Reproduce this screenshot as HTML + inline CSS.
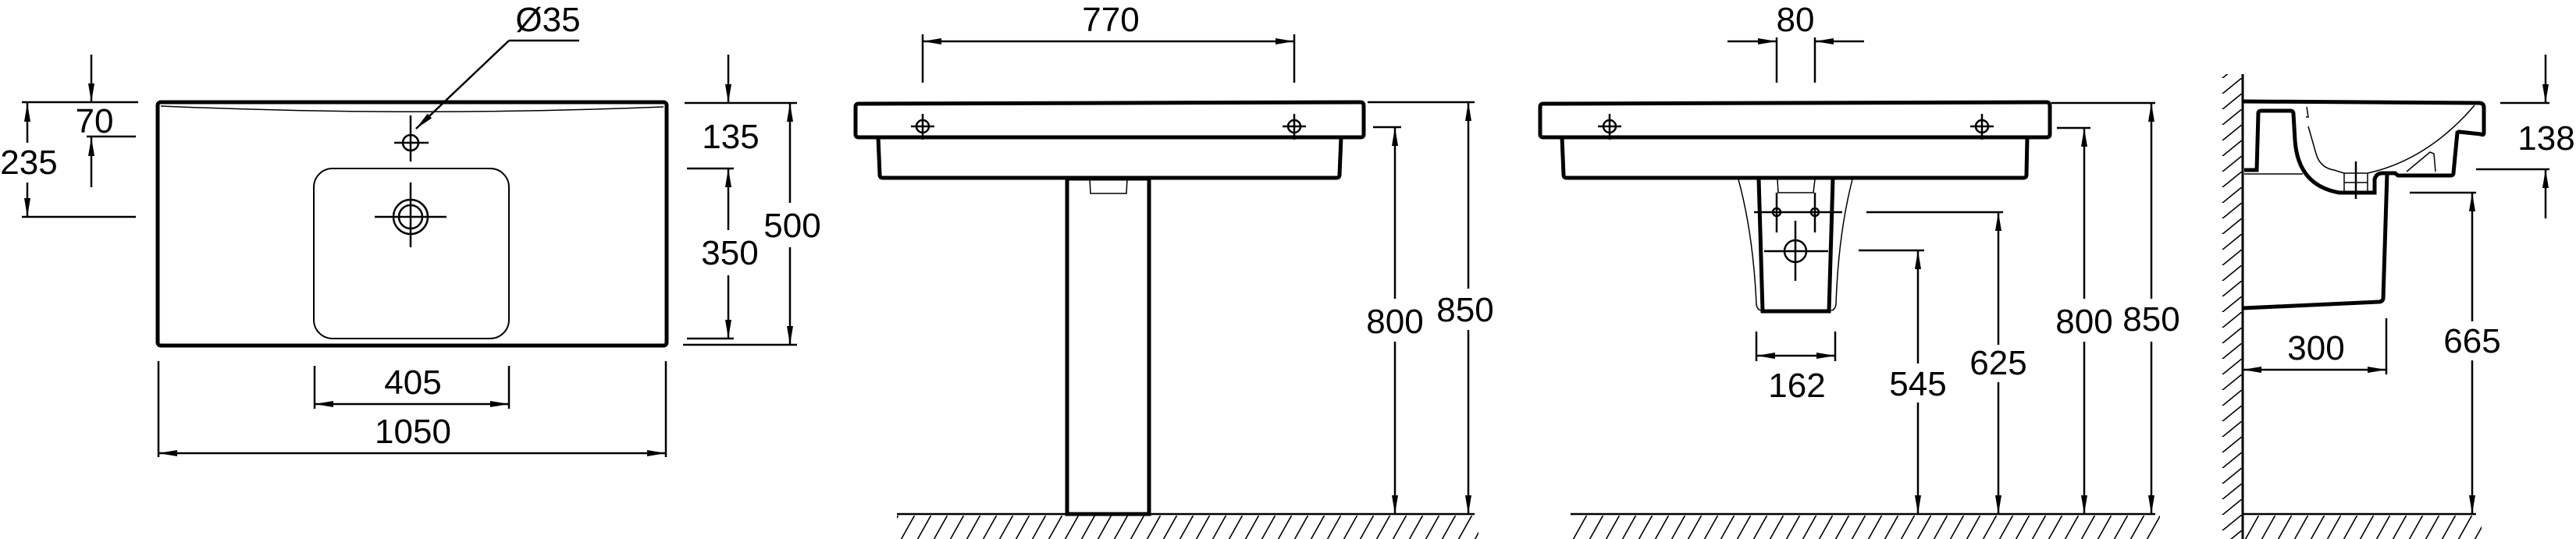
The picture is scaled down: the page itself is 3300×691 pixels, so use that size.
<!DOCTYPE html>
<html><head><meta charset="utf-8"><style>
html,body{margin:0;padding:0;background:#fff;}
svg{display:block;}
text{font-family:"Liberation Sans",Arial,sans-serif;font-size:44px;fill:#000;text-anchor:middle;}
</style></head><body>
<svg width="3300" height="691" viewBox="0 0 3300 691" xmlns="http://www.w3.org/2000/svg">
<defs>
<marker id="a" viewBox="0 0 24 8" refX="24" refY="4" markerWidth="24" markerHeight="8" markerUnits="userSpaceOnUse" orient="auto-start-reverse">
<path d="M0,0 L24,4 L0,8 z" fill="#000"/></marker>
<pattern id="h" patternUnits="userSpaceOnUse" x="0" y="661" width="21" height="32">
<line x1="-2" y1="33" x2="17" y2="-1" stroke="#000" stroke-width="1.6"/>
<line x1="19" y1="33" x2="38" y2="-1" stroke="#000" stroke-width="1.6"/></pattern>
<pattern id="w" patternUnits="userSpaceOnUse" x="2846" y="0" width="27" height="20">
<line x1="0" y1="21" x2="27" y2="-1" stroke="#000" stroke-width="1.6"/></pattern>
</defs>
<g fill="none" stroke="#000" stroke-width="2.5">

<!-- PANEL 1 -->
<rect x="202" y="131" width="652" height="312" rx="4" stroke-width="5"/>
<path d="M206,136 Q528,150 850,137" stroke-width="1.5"/>
<circle cx="526" cy="183" r="10"/>
<line x1="505" y1="183" x2="549" y2="183"/><line x1="526" y1="148" x2="526" y2="207"/>
<line x1="533" y1="165" x2="652" y2="52" marker-start="url(#a)"/>
<line x1="652" y1="52" x2="742" y2="52"/>
<rect x="402" y="216" width="250" height="218" rx="24" stroke-width="2"/>
<circle cx="526" cy="278" r="22"/><circle cx="526" cy="278" r="15"/>
<line x1="480" y1="278" x2="572" y2="278"/><line x1="526" y1="234" x2="526" y2="317"/>
<!-- left dims -->
<line x1="28" y1="131" x2="177" y2="131"/>
<line x1="28" y1="278" x2="174" y2="278"/>
<line x1="111" y1="175" x2="174" y2="175"/>
<line x1="35" y1="183" x2="35" y2="132" marker-end="url(#a)"/>
<line x1="35" y1="234" x2="35" y2="278" marker-end="url(#a)"/>
<line x1="117" y1="70" x2="117" y2="131" marker-end="url(#a)"/>
<line x1="117" y1="240" x2="117" y2="176" marker-end="url(#a)"/>
<!-- right dims -->
<line x1="877" y1="132" x2="1021" y2="132"/>
<line x1="880" y1="216" x2="940" y2="216"/>
<line x1="880" y1="434" x2="940" y2="434"/>
<line x1="875" y1="442" x2="1021" y2="442"/>
<line x1="933" y1="70" x2="933" y2="132" marker-end="url(#a)"/>
<line x1="933" y1="295" x2="933" y2="216" marker-end="url(#a)"/>
<line x1="933" y1="353" x2="933" y2="434" marker-end="url(#a)"/>
<line x1="1012" y1="260" x2="1012" y2="132" marker-end="url(#a)"/>
<line x1="1012" y1="317" x2="1012" y2="442" marker-end="url(#a)"/>
<!-- bottom dims -->
<line x1="403" y1="469" x2="403" y2="524"/><line x1="652" y1="469" x2="652" y2="524"/>
<line x1="403" y1="518" x2="652" y2="518" marker-start="url(#a)" marker-end="url(#a)"/>
<line x1="203" y1="463" x2="203" y2="586"/><line x1="853" y1="463" x2="853" y2="586"/>
<line x1="203" y1="581" x2="853" y2="581" marker-start="url(#a)" marker-end="url(#a)"/>

<!-- PANEL 2 -->
<path d="M1100,133 L1743,131 Q1747,131 1747,136 L1747,172 Q1747,176 1743,176 L1100,176 Q1096,176 1096,172 L1096,137 Q1096,133 1100,133 Z" stroke-width="5"/>
<path d="M1125,176 L1127,224 Q1127,228 1131,228 L1712,228 Q1716,228 1716,224 L1718,176" stroke-width="5"/>
<circle cx="1182" cy="162" r="8"/><line x1="1167" y1="162" x2="1197" y2="162"/><line x1="1182" y1="146" x2="1182" y2="179"/>
<circle cx="1658" cy="162" r="8"/><line x1="1643" y1="162" x2="1673" y2="162"/><line x1="1658" y1="146" x2="1658" y2="179"/>
<line x1="1182" y1="44" x2="1182" y2="106"/><line x1="1658" y1="44" x2="1658" y2="106"/>
<line x1="1182" y1="53" x2="1658" y2="53" marker-start="url(#a)" marker-end="url(#a)"/>
<rect x="1367" y="229" width="105" height="430" stroke-width="5"/>
<path d="M1396,229 L1397,248 L1443,248 L1444,229" stroke-width="1.5"/>
<line x1="1149" y1="659" x2="1889" y2="659"/>
<rect x="1149" y="661" width="745" height="30" fill="url(#h)" stroke="none"/>
<line x1="1752" y1="131" x2="1889" y2="131"/>
<line x1="1759" y1="163" x2="1795" y2="163"/>
<line x1="1787" y1="383" x2="1787" y2="163" marker-end="url(#a)"/>
<line x1="1787" y1="438" x2="1787" y2="659" marker-end="url(#a)"/>
<line x1="1881" y1="370" x2="1881" y2="131" marker-end="url(#a)"/>
<line x1="1881" y1="423" x2="1881" y2="659" marker-end="url(#a)"/>

<!-- PANEL 3 -->
<path d="M1977,133 L2622,131 Q2626,131 2626,136 L2626,172 Q2626,176 2622,176 L1977,176 Q1973,176 1973,172 L1973,137 Q1973,133 1977,133 Z" stroke-width="5"/>
<path d="M2001,176 L2003,224 Q2003,228 2007,228 L2592,228 Q2596,228 2596,224 L2597,176" stroke-width="5"/>
<circle cx="2062" cy="162" r="8"/><line x1="2047" y1="162" x2="2077" y2="162"/><line x1="2062" y1="146" x2="2062" y2="179"/>
<circle cx="2539" cy="162" r="8"/><line x1="2524" y1="162" x2="2554" y2="162"/><line x1="2539" y1="146" x2="2539" y2="179"/>
<line x1="2276" y1="48" x2="2276" y2="106"/><line x1="2325" y1="48" x2="2325" y2="106"/>
<line x1="2213" y1="53" x2="2276" y2="53" marker-end="url(#a)"/>
<line x1="2388" y1="53" x2="2325" y2="53" marker-end="url(#a)"/>
<path d="M2227,230 Q2246,300 2250,390 Q2251,397 2256,398" stroke-width="1.5"/>
<path d="M2373,230 Q2355,300 2352,390 Q2351,397 2346,398" stroke-width="1.5"/>
<path d="M2253,229 L2258,399 L2343,399 L2348,229" stroke-width="5"/>
<path d="M2277,230 L2278,247 L2323,247 L2325,230" stroke-width="1.5"/>
<line x1="2276" y1="247" x2="2276" y2="298"/><line x1="2325" y1="247" x2="2325" y2="298"/>
<line x1="2247" y1="272" x2="2360" y2="272"/>
<circle cx="2276" cy="272" r="5"/><circle cx="2325" cy="272" r="5"/>
<circle cx="2300" cy="322" r="14"/>
<line x1="2260" y1="322" x2="2342" y2="322"/><line x1="2300" y1="283" x2="2300" y2="360"/>
<line x1="2250" y1="425" x2="2250" y2="463"/><line x1="2351" y1="425" x2="2351" y2="463"/>
<line x1="2250" y1="456" x2="2351" y2="456" marker-start="url(#a)" marker-end="url(#a)"/>
<line x1="2381" y1="321" x2="2465" y2="321"/>
<line x1="2391" y1="272" x2="2566" y2="272"/>
<line x1="2635" y1="164" x2="2678" y2="164"/>
<line x1="2628" y1="132" x2="2761" y2="132"/>
<line x1="2457" y1="466" x2="2457" y2="321" marker-end="url(#a)"/>
<line x1="2457" y1="516" x2="2457" y2="659" marker-end="url(#a)"/>
<line x1="2560" y1="442" x2="2560" y2="272" marker-end="url(#a)"/>
<line x1="2560" y1="490" x2="2560" y2="659" marker-end="url(#a)"/>
<line x1="2670" y1="383" x2="2670" y2="164" marker-end="url(#a)"/>
<line x1="2670" y1="438" x2="2670" y2="659" marker-end="url(#a)"/>
<line x1="2756" y1="383" x2="2756" y2="132" marker-end="url(#a)"/>
<line x1="2756" y1="438" x2="2756" y2="659" marker-end="url(#a)"/>
<line x1="2012" y1="659" x2="2761" y2="659"/>
<rect x="2012" y="661" width="755" height="30" fill="url(#h)" stroke="none"/>

<!-- PANEL 4 -->
<rect x="2846" y="95" width="26" height="596" fill="url(#w)" stroke="none"/>
<line x1="2873" y1="95" x2="2873" y2="691" stroke-width="3"/>
<line x1="2873" y1="659" x2="3172" y2="659"/>
<rect x="2873" y="661" width="306" height="30" fill="url(#h)" stroke="none"/>
<path d="M2874,130 L3176,132 Q3182,132 3182,138 L3182,170 Q3182,174 3178,172 L3150,169 L3148,170 L3143,222 Q3143,225 3139,225 L3072,225 L3068,222 L3058,222 L3053,383 Q3052,387 3047,387 L2874,395" stroke-width="5"/>
<path d="M2875,218 L2891,218 L2893,145 Q2893,142 2897,142 L2934,142 Q2938,142 2938,146 L2940,180 Q2944,238 2997,247 L3042,247 L3042,230 Q3044,222 3052,222 L3070,222" stroke-width="5"/>
<line x1="2875" y1="223" x2="2950" y2="223" stroke-width="1.5"/>
<path d="M2957,162 L2967,197 Q2972,215 2990,218 L3003,222" stroke-width="1.5"/>
<path d="M3033,222 Q3110,205 3170,135" stroke-width="1.5"/>
<path d="M2955,137 L2957,150 L2954,150" stroke-width="1.5"/>
<path d="M3083,220 L3113,195 L3118,197 L3120,220" stroke-width="1.5"/>
<rect x="3003" y="222" width="30" height="25" stroke-width="1.5"/>
<line x1="3003" y1="234" x2="3033" y2="234" stroke-width="1.5"/>
<line x1="3018" y1="207" x2="3018" y2="255"/>
<line x1="3203" y1="132" x2="3266" y2="132"/>
<line x1="3172" y1="217" x2="3266" y2="217"/>
<line x1="3261" y1="70" x2="3261" y2="132" marker-end="url(#a)"/>
<line x1="3261" y1="280" x2="3261" y2="217" marker-end="url(#a)"/>
<line x1="3087" y1="247" x2="3172" y2="247"/>
<line x1="3167" y1="412" x2="3167" y2="247" marker-end="url(#a)"/>
<line x1="3167" y1="462" x2="3167" y2="659" marker-end="url(#a)"/>
<line x1="3057" y1="408" x2="3057" y2="480"/>
<line x1="2873" y1="474" x2="3057" y2="474" marker-start="url(#a)" marker-end="url(#a)"/>
</g>

<g>
<text x="702" y="40">Ø35</text>
<text x="121" y="170">70</text>
<text x="37" y="223">235</text>
<text x="936" y="190">135</text>
<text x="935" y="339">350</text>
<text x="1015" y="304">500</text>
<text x="529" y="505">405</text>
<text x="529" y="568">1050</text>
<text x="1423" y="40">770</text>
<text x="1787" y="427">800</text>
<text x="1877" y="412">850</text>
<text x="2300" y="40">80</text>
<text x="2302" y="509">162</text>
<text x="2457" y="507">545</text>
<text x="2560" y="480">625</text>
<text x="2670" y="427">800</text>
<text x="2756" y="424">850</text>
<text x="3262" y="192">138</text>
<text x="3167" y="452">665</text>
<text x="2967" y="461">300</text>
</g>
</svg>
</body></html>
